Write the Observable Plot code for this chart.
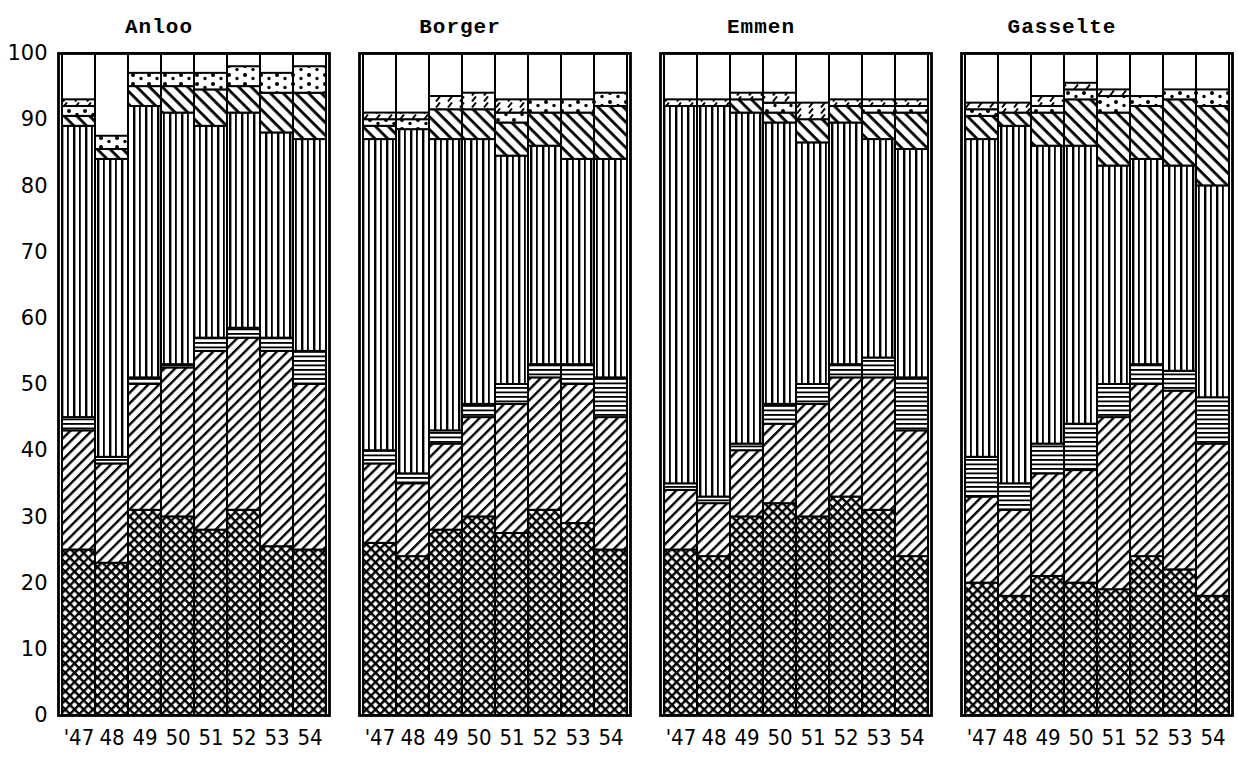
<!DOCTYPE html>
<html><head><meta charset="utf-8">
<script src="https://cdn.jsdelivr.net/npm/d3@7"></script>
<script src="https://cdn.jsdelivr.net/npm/@observablehq/plot@0.6"></script>
<style>body{margin:0;background:#fff}</style>
</head><body><div id="chart"></div>
<script>
// Municipalities (facets) and years
const towns = ["Anloo", "Borger", "Emmen", "Gasselte"];
const years = ["47", "48", "49", "50", "51", "52", "53", "54"];
const yearLabels = ["'47", "48", "49", "50", "51", "52", "53", "54"];
const yTicks = [0, 10, 20, 30, 40, 50, 60, 70, 80, 90, 100];
const TOTAL = 100; // percent scale, full bar

// Layer shares (%) per town (rows: Anloo, Borger, Emmen, Gasselte), per year '47..'54
// bottom to top
const crossHatch = [
  [25, 23, 31, 30, 28, 31, 25.5, 25],
  [26, 24, 28, 30, 27.5, 31, 29, 25],
  [25, 24, 30, 32, 30, 33, 31, 24],
  [20, 18, 21, 20, 19, 24, 22, 18]
];
const forwardHatch = [
  [18, 15, 19, 22.5, 27, 26, 29.5, 25],
  [12, 11, 13, 15, 19.5, 20, 21, 20],
  [9, 8, 10, 12, 17, 18, 20, 19],
  [13, 13, 15.5, 17, 26, 26, 27, 23]
];
const horizontalLines = [
  [2, 1, 1, 0.5, 2, 1.5, 2, 5],
  [2, 1.5, 2, 2, 3, 2, 3, 6],
  [1, 1, 1, 3, 3, 2, 3, 8],
  [6, 4, 4.5, 7, 5, 3, 3, 7]
];
const verticalLines = [
  [44, 45, 41, 38, 32, 32.5, 31, 32],
  [47, 52, 44, 40, 34.5, 33, 31, 33],
  [57, 59, 50, 42.5, 36.5, 36.5, 33, 34.5],
  [48, 54, 45, 42, 33, 31, 31, 32]
];
const backwardHatch = [
  [1.5, 1.5, 3, 4, 5.5, 4, 6, 7],
  [2, 0, 4.5, 4.5, 5, 5, 7, 8],
  [0, 0, 2, 1.5, 3.5, 2.5, 4, 5.5],
  [3.5, 2, 5, 7, 8, 8, 10, 12]
];
const dotted = [
  [1.5, 2, 2, 2, 2.5, 3, 3, 4],
  [1, 1.5, 0, 0, 1.5, 2, 2, 2],
  [0, 0, 0, 1.5, 0, 0, 1, 1],
  [1, 0, 1, 1.5, 2.5, 1.5, 1.5, 2.5]
];
const dashed = [
  [1, 0, 0, 0, 0, 0, 0, 0],
  [1, 1, 2, 2.5, 2, 0, 0, 0],
  [1, 1, 1, 1.5, 2.5, 1, 1, 1],
  [1, 1.5, 1.5, 1, 1, 0, 0, 0]
];

const layers = ["cross", "fwd", "horiz", "vert", "bwd", "dots", "dash"];
const layerValues = [crossHatch, forwardHatch, horizontalLines, verticalLines, backwardHatch, dotted, dashed];

const rows = [];
towns.forEach((t, i) => years.forEach((y, j) => layers.forEach((l, k) => {
  const v = layerValues[k][i][j];
  if (v > 0) rows.push({town: t, year: y, layer: l, value: v});
})));
const bars = towns.flatMap(t => years.map(y => ({town: t, year: y, total: TOTAL})));

const chart = Plot.plot({
  width: 1238,
  height: 760,
  marginLeft: 57,
  marginRight: 5,
  marginTop: 53,
  marginBottom: 45,
  fx: {domain: towns, paddingInner: 0.1, paddingOuter: 0, label: null},
  x: {domain: years, padding: 0, label: null},
  y: {domain: [0, 100], label: null},
  color: {domain: layers, range: layers.map(l => `url(#p-${l})`)},
  marks: [
    Plot.barY(bars, {fx: "town", x: "year", y: "total", fill: "white", stroke: "black", strokeWidth: 2, inset: 0}),
    Plot.barY(rows, {fx: "town", x: "year", y: "value", fill: "layer", stroke: "black", strokeWidth: 2, inset: 0}),
    Plot.frame({stroke: "black", strokeWidth: 2.8}),
    Plot.axisY({ticks: yTicks, tickSize: 0, tickPadding: 11, fontSize: 21, fontFamily: "DejaVu Sans", fill: "black"}),
    Plot.axisX({tickSize: 0, tickPadding: 14, tickFormat: (d) => yearLabels[years.indexOf(d)], fontSize: 22, fontFamily: "DejaVu Sans Condensed", fill: "black"}),
    Plot.axisFx({anchor: "top", tickSize: 0, tickPadding: 21, dx: -35, fontSize: 21, fontWeight: "bold", fontFamily: "Liberation Mono", fill: "black"})
  ]
});

d3.select(chart).insert("defs", ":first-child").html(`
  <pattern id="p-cross" patternUnits="userSpaceOnUse" width="6.5" height="6.5" patternTransform="rotate(45)">
    <rect width="6.5" height="6.5" fill="white"/>
    <rect width="6.5" height="2.4" fill="black"/>
    <rect width="2.4" height="6.5" fill="black"/>
  </pattern>
  <pattern id="p-fwd" patternUnits="userSpaceOnUse" width="7.5" height="7.5" patternTransform="rotate(-45)">
    <rect width="7.5" height="7.5" fill="white"/>
    <rect width="7.5" height="2.4" fill="black"/>
  </pattern>
  <pattern id="p-horiz" patternUnits="userSpaceOnUse" width="10" height="4.5">
    <rect width="10" height="4.5" fill="white"/>
    <rect width="10" height="1.8" fill="black"/>
  </pattern>
  <pattern id="p-vert" patternUnits="userSpaceOnUse" width="12" height="10">
    <rect width="12" height="10" fill="white"/>
    <rect x="0" width="2.4" height="10" fill="black"/>
    <rect x="6" width="1.8" height="10" fill="black"/>
  </pattern>
  <pattern id="p-bwd" patternUnits="userSpaceOnUse" width="9" height="9" patternTransform="rotate(45)">
    <rect width="9" height="9" fill="white"/>
    <rect width="9" height="2.8" fill="black"/>
  </pattern>
  <pattern id="p-dots" patternUnits="userSpaceOnUse" width="16" height="9">
    <rect width="16" height="9" fill="white"/>
    <circle cx="4" cy="3" r="2" fill="black"/>
    <circle cx="12" cy="6.5" r="1.7" fill="black"/>
  </pattern>
  <pattern id="p-dash" patternUnits="userSpaceOnUse" width="12" height="6">
    <rect width="12" height="6" fill="white"/>
    <path d="M2,5.5 L6,0.5" stroke="black" stroke-width="2"/>
  </pattern>
`);
d3.select(chart).selectAll('g[aria-label="fx-axis tick label"] text').style("letter-spacing", "1px");

document.getElementById("chart").append(chart);
</script>
</body></html>
